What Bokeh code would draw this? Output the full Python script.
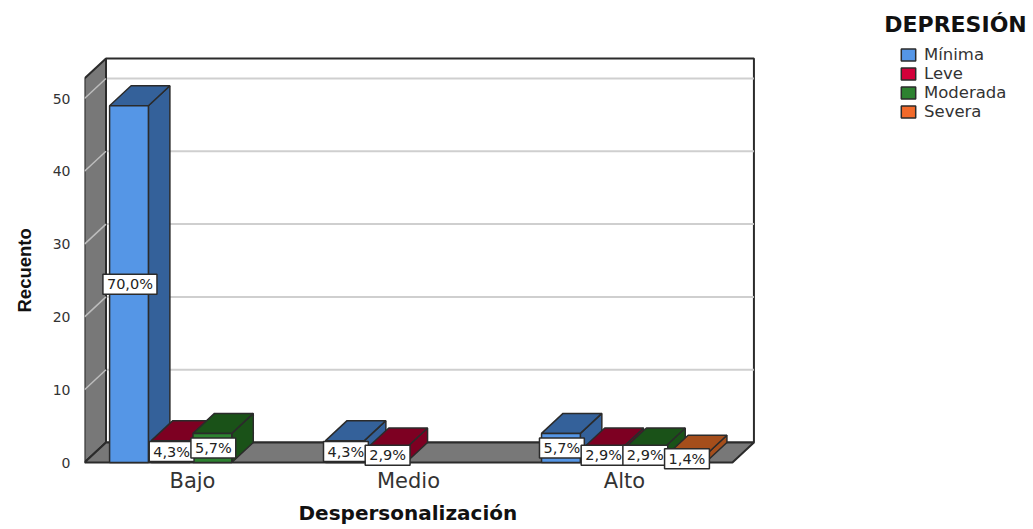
from bokeh.plotting import figure
from bokeh.embed import file_html
from bokeh.resources import INLINE
from bokeh.models import FixedTicker, Label, Legend, LegendItem, ColumnDataSource, Title
from bokeh.core.properties import value

categories = ["Bajo", "Medio", "Alto"]
series_names = ["Mínima", "Leve", "Moderada", "Severa"]
minima = [49, 3, 4]
leve = [3, 2, 2]
moderada = [4, 0, 2]
severa = [0, 0, 1]
pct_minima = ["70,0%", "4,3%", "5,7%"]
pct_leve = ["4,3%", "2,9%", "2,9%"]
pct_moderada = ["5,7%", "", "2,9%"]
pct_severa = ["", "", "1,4%"]
y_ticks = [0, 10, 20, 30, 40, 50]

front_colors = ["#5596E6", "#D3003A", "#2D8230", "#F26A2B"]
dark_colors = ["#34619A", "#7D0022", "#1A5218", "#A54E1B"]
series_values = [minima, leve, moderada, severa]
series_pcts = [pct_minima, pct_leve, pct_moderada, pct_severa]

WALL = "#787878"
EDGE = "#2b2b2b"
TEXT = "#333333"
DX, DY = 21.5 / 216, 20 / 7.28
SLOT, BAR, INSET = 41.7 / 216, 38.8 / 216, 0.5 / 216
LEFT, RIGHT, TOP = -0.5, 2.5, 52.75

p = figure(width=1033, height=529, output_backend="svg", toolbar_location=None,
           x_range=(-0.5, 3.894), y_range=(-8 / 7.28, 462 / 7.28),
           min_border_left=84, min_border_right=0, min_border_top=0, min_border_bottom=59,
           background_fill_color="white", border_fill_color="white")
p.outline_line_color = None
p.grid.visible = False

# room: back wall, left wall, floor
p.patch([LEFT + DX, RIGHT + DX, RIGHT + DX, LEFT + DX], [DY, DY, TOP + DY, TOP + DY],
        fill_color="white", line_color=EDGE, line_width=2)
p.segment([LEFT + DX] * 5, [t + DY for t in y_ticks[1:]], [RIGHT + DX] * 5, [t + DY for t in y_ticks[1:]],
          line_color="#cfcfcf", line_width=2)
p.patch([LEFT, LEFT + DX, LEFT + DX, LEFT], [0, DY, TOP + DY, TOP],
        fill_color=WALL, line_color=EDGE, line_width=2)
p.segment([LEFT] * 5, y_ticks[1:], [LEFT + DX] * 5, [t + DY for t in y_ticks[1:]],
          line_color="#bdbdbd", line_width=1.5)
p.patch([LEFT, RIGHT, RIGHT + DX, LEFT + DX], [0, 0, DY, DY],
        fill_color=WALL, line_color=EDGE, line_width=2)

legend_items = []
lx, ly, lt = [], [], []
for k, (name, vals, pcts) in enumerate(zip(series_names, series_values, series_pcts)):
    idx = [i for i, v in enumerate(vals) if v > 0]
    left = [i + (k - 2) * SLOT + INSET for i in idx]
    right = [l + BAR for l in left]
    tops = [vals[i] for i in idx]
    side_xs = [[r, r + DX, r + DX, r] for r in right]
    side_ys = [[0, DY, t + DY, t] for t in tops]
    top_xs = [[l, l + DX, r + DX, r] for l, r in zip(left, right)]
    top_ys = [[t, t + DY, t + DY, t] for t in tops]
    p.patches(side_xs, side_ys, fill_color=dark_colors[k], line_color=EDGE, line_width=1.5)
    p.patches(top_xs, top_ys, fill_color=dark_colors[k], line_color=EDGE, line_width=1.5)
    src = ColumnDataSource(dict(left=left, right=right, top=tops, bottom=[0] * len(idx)))
    r = p.quad(left="left", right="right", top="top", bottom="bottom", source=src,
               fill_color=front_colors[k], line_color=EDGE, line_width=1.5)
    legend_items.append(LegendItem(label=name, renderers=[r]))
    for i in idx:
        lx.append(i + (k - 1.5) * SLOT)
        ly.append(vals[i] / 2)
        lt.append(pcts[i])

p.text(lx, ly, text=lt, text_font=value("DejaVu Sans"), text_font_size="14.5px", text_color="#222222",
       text_align="center", text_baseline="middle",
       background_fill_color="white", border_line_color=EDGE, border_line_width=1.5, padding=(4, 2))

# axes
xa = p.xaxis[0]
xa.ticker = FixedTicker(ticks=[0, 1, 2])
xa.major_label_overrides = {i: c for i, c in enumerate(categories)}
xa.axis_line_color = None
xa.major_tick_line_color = None
xa.minor_tick_line_color = None
xa.major_label_standoff = -8
xa.major_label_text_font = "DejaVu Sans"
xa.major_label_text_font_size = "21px"
xa.major_label_text_color = TEXT

ya = p.yaxis[0]
ya.ticker = FixedTicker(ticks=y_ticks)
ya.axis_line_color = None
ya.major_tick_line_color = None
ya.minor_tick_line_color = None
ya.major_label_standoff = 8
ya.major_label_text_font = "DejaVu Sans"
ya.major_label_text_font_size = "14px"
ya.major_label_text_color = TEXT

x_title = Title(text="Despersonalización", align="left", offset=214, standoff=7,
                text_font="DejaVu Sans", text_font_style="bold", text_font_size="20px", text_color="#111111")
y_title = Title(text="Recuento", align="left", offset=158, standoff=26, vertical_align="top",
                text_font="Liberation Sans", text_font_style="bold", text_font_size="18.5px", text_color="#111111")
p.add_layout(x_title, "below")
p.add_layout(y_title, "left")

leg_title = Label(x=955, y=24, x_units="canvas", y_units="canvas", text="DEPRESIÓN",
                  text_font="DejaVu Sans", text_font_style="bold", text_font_size="22px",
                  text_color="#111111", text_align="center", text_baseline="middle")
p.add_layout(leg_title)

legend = Legend(items=legend_items, location=(815, 349), padding=0, margin=0, spacing=0,
                glyph_width=18, glyph_height=15, label_height=15, label_standoff=7,
                label_text_font="DejaVu Sans", label_text_font_size="16.5px", label_text_color=TEXT,
                border_line_color=None, background_fill_alpha=0)
p.add_layout(legend)

open("out.html", "w").write(file_html(p, INLINE))
